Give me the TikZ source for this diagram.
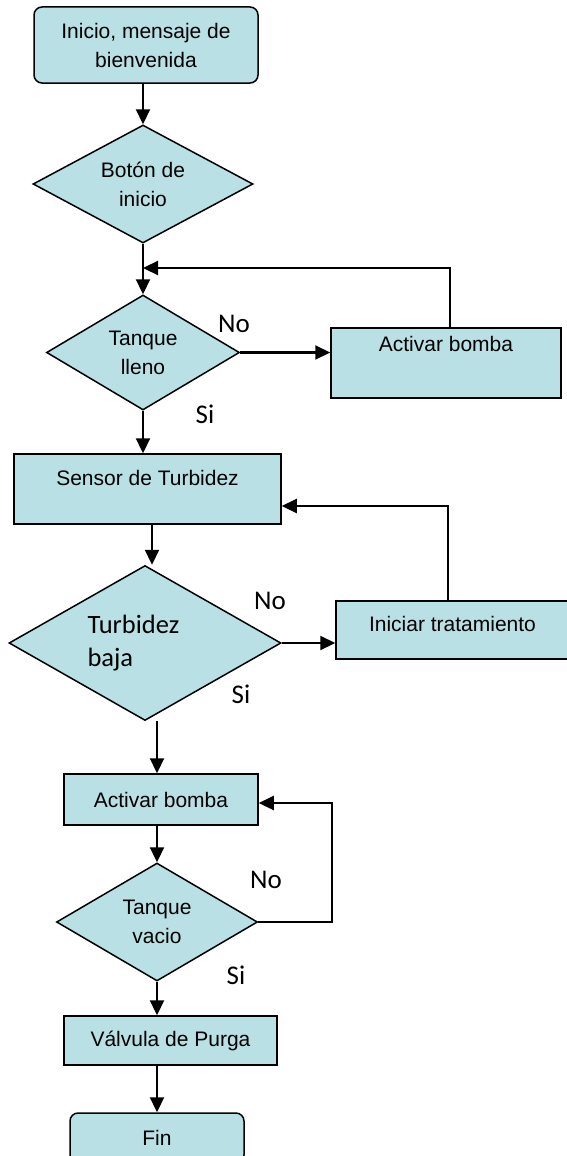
\documentclass[tikz,border=0pt]{standalone}
\usepackage{fontspec}
\setmainfont{Liberation Sans}
\newfontfamily\calibri{Carlito}
\usepackage{tikz}
\usetikzlibrary{arrows.meta,shapes.geometric}
\definecolor{celeste}{RGB}{185,224,228}

\begin{document}
\begin{tikzpicture}[x=1pt,y=-1pt,
    process/.style={draw,fill=celeste,line width=1.5pt,inner sep=2pt,
      font=\fontsize{21}{29}\selectfont,align=center},
    topprocess/.style={process,text height=15pt,text depth=#1},
    startstop/.style={process,rounded corners=8pt},
    decision/.style={process,diamond,aspect=1.75,inner sep=0pt},
    flow/.style={line width=2.2pt,-{Triangle[length=15pt,width=14pt]}},
    lbl/.style={font=\calibri\fontsize{27}{33}\selectfont}]
    \useasboundingbox (0,0) rectangle (567,1156);

    % Main column
    \node[startstop,minimum width=224pt,minimum height=76pt] (inicio) at (146,45) {Inicio, mensaje de\\bienvenida};
    \node[decision,minimum width=220pt,minimum height=118pt] (boton) at (143,184) {Botón de\\inicio};
    \node[decision,minimum width=193pt,minimum height=115pt] (lleno) at (143,352.5) {Tanque\\lleno};
    \node[topprocess=22.6pt,minimum width=267pt,minimum height=70pt] (sensor) at (147.5,489) {Sensor de Turbidez};
    \node[decision,minimum width=272pt,minimum height=155pt,text width=115pt,align=left,
      font=\calibri\fontsize{26.5}{33}\selectfont] (turb) at (145,643) {Turbidez\\baja};
    \node[process,minimum width=194pt,minimum height=51pt] (bomba2) at (161,799.5) {Activar bomba};
    \node[decision,minimum width=201pt,minimum height=118pt] (vacio) at (157,922) {Tanque\\vacio};
    \node[process,minimum width=213pt,minimum height=49pt] (valvula) at (170.5,1040.5) {Válvula de Purga};
    \node[startstop,minimum width=174pt,minimum height=50pt] (fin) at (157,1138) {Fin};

    % Side boxes
    \node[topprocess=38pt,minimum width=230pt,minimum height=70pt] (bomba1) at (446,363) {Activar bomba};
    \node[topprocess=13pt,minimum width=233pt,minimum height=58pt] (trat) at (452.5,630) {Iniciar tratamiento};

    % Arrows down the main column
    \draw[flow] (inicio.south -| boton.north) -- (boton.north);
    \draw[flow] (boton.south) -- (lleno.north);
    \draw[flow] (lleno.south) -- (lleno.south |- sensor.north);
    \draw[flow] ([xshift=4.5pt]sensor.south) -- ([xshift=4.5pt]sensor.south |- turb.north);
    \draw[flow] (turb.south -| vacio.north) -- (bomba2.north -| vacio.north);
    \draw[flow] (bomba2.south -| vacio.north) -- (vacio.north);
    \draw[flow] (vacio.south) -- (vacio.south |- valvula.north);
    \draw[flow] (valvula.south -| fin.north) -- (fin.north);

    % No branches and loops back
    \coordinate (j1) at (143,268);
    \coordinate (c3) at (332,803);
    \draw[flow] (lleno.east) -- (lleno.east -| bomba1.west);
    \draw[flow] ([xshift=4pt]bomba1.north) |- (j1);
    \draw[flow] (turb.east) -- (turb.east -| trat.west);
    \draw[flow] ([xshift=-4.5pt]trat.north) |- ([yshift=-17pt]sensor.east);
    \draw[flow] (vacio.east) -| (c3) -- (c3 -| bomba2.east);

    % Labels
    \node[lbl] (no1) at (234,324) {No};
    \node[lbl] (si1) at (205,414) {Si};
    \node[lbl] (no2) at (270,601) {No};
    \node[lbl] (si2) at (241,694) {Si};
    \node[lbl] (no3) at (266,880) {No};
    \node[lbl] (si3) at (236,975) {Si};
\end{tikzpicture}
\end{document}
